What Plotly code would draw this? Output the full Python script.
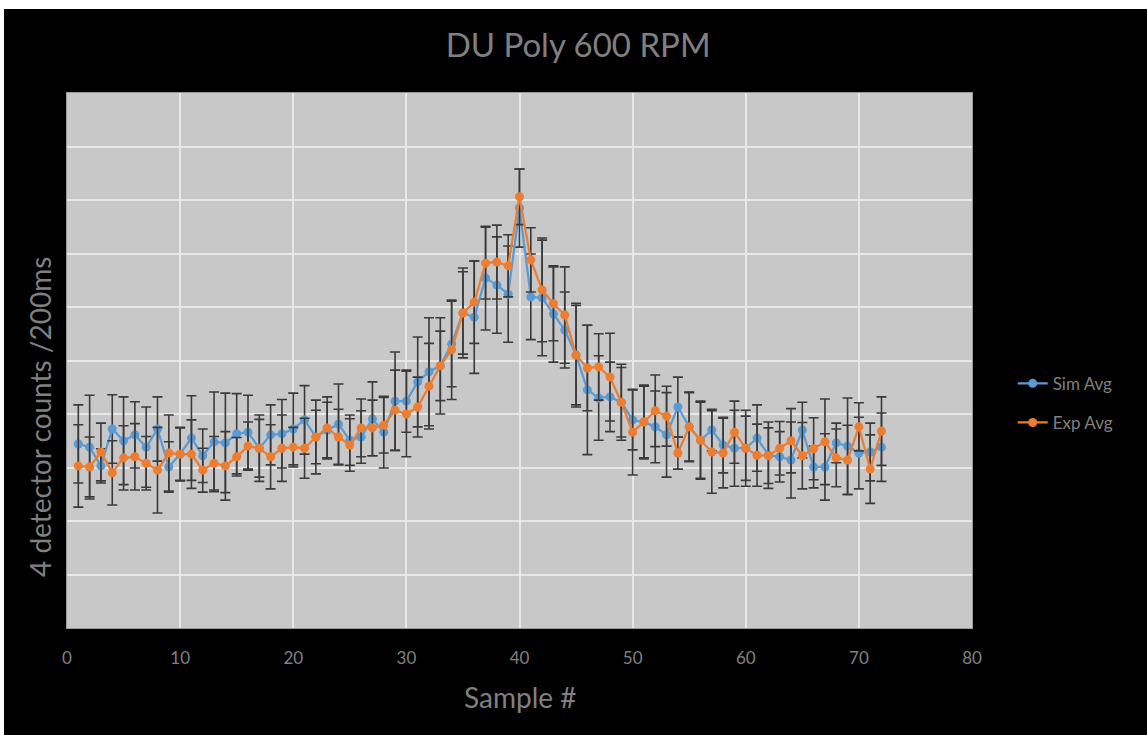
import plotly.graph_objects as go

# Sample numbers
samples = list(range(1, 73))

# Simulated average counts (4 detectors, per 200 ms)
sim_avg = [344, 338, 303, 372, 350, 361, 338, 372, 301, 325,
           355, 322, 348, 346, 363, 366, 336, 361, 363, 372,
           389, 357, 370, 381, 351, 357, 391, 366, 424, 424,
           460, 479, 490, 531, 589, 581, 654, 641, 624, 785,
           619, 617, 587, 557, 510, 445, 430, 432, 422, 389,
           385, 376, 361, 413, 376, 351, 370, 342, 336, 336,
           355, 323, 320, 314, 370, 301, 301, 346, 340, 327,
           329, 338]
sim_err = [73, 97, 32, 64, 82, 62, 75, 60, 47, 50,
           79, 50, 93, 93, 75, 69, 62, 56, 64, 67,
           64, 69, 52, 75, 47, 49, 69, 67, 92, 58,
           84, 101, 90, 80, 84, 105, 97, 90, 90, 73,
           80, 108, 90, 71, 97, 121, 79, 65, 71, 56,
           67, 67, 79, 56, 64, 71, 39, 52, 71, 60,
           62, 62, 47, 71, 52, 39, 62, 37, 90, 67,
           54, 64]

# Experimental average counts
exp_avg = [303, 301, 329, 290, 318, 320, 308, 295, 327, 325,
           325, 295, 308, 303, 320, 340, 336, 320, 336, 338,
           336, 357, 374, 357, 342, 374, 374, 379, 407, 400,
           413, 452, 490, 520, 589, 609, 682, 684, 677, 806,
           688, 632, 606, 585, 510, 486, 488, 469, 422, 366,
           385, 406, 396, 327, 376, 351, 329, 327, 366, 336,
           323, 322, 336, 350, 322, 335, 348, 318, 314, 376,
           297, 368]
exp_err = [77, 56, 54, 60, 60, 62, 50, 80, 71, 49,
           64, 41, 50, 64, 36, 45, 54, 60, 62, 37,
           56, 50, 58, 52, 49, 54, 52, 52, 75, 80,
           56, 80, 65, 93, 77, 77, 67, 69, 58, 52,
           60, 97, 69, 90, 93, 80, 62, 82, 65, 80,
           69, 67, 56, 30, 65, 73, 77, 65, 58, 71,
           58, 52, 50, 60, 62, 58, 80, 54, 65, 45,
           64, 64]

x_ticks = [0, 10, 20, 30, 40, 50, 60, 70, 80]

BLUE = "#5B9BD5"
ORANGE = "#ED7D31"
ERR = "#3a3a3a"
TEXT = "#808080"
FONT = "Lato, Open Sans, sans-serif"

fig = go.Figure()

fig.add_trace(go.Scatter(
    x=samples, y=sim_avg, name="Sim Avg", mode="lines+markers",
    line=dict(color=BLUE, width=2.25),
    marker=dict(color=BLUE, size=9),
    error_y=dict(type="data", array=sim_err, color=ERR, thickness=1.6, width=5),
    legendgroup="sim",
))
fig.add_trace(go.Scatter(
    x=samples, y=exp_avg, name="Exp Avg", mode="lines+markers",
    line=dict(color=ORANGE, width=2.25),
    marker=dict(color=ORANGE, size=9),
    error_y=dict(type="data", array=exp_err, color=ERR, thickness=1.6, width=5),
    legendgroup="exp",
))

fig.update_layout(
    width=1147, height=735,
    margin=dict(l=67, r=175, t=93, b=107),
    paper_bgcolor="black",
    plot_bgcolor="#c8c8c8",
    font=dict(family=FONT, color=TEXT, size=17),
    title=dict(text="DU Poly 600 RPM", x=0.504, xanchor="center",
               y=1 - 45 / 735, yanchor="middle",
               font=dict(family=FONT, size=33, color=TEXT)),
    showlegend=True,
    legend=dict(x=1.045, xanchor="left", y=0.42, yanchor="middle",
                traceorder="grouped", tracegroupgap=14,
                bgcolor="rgba(0,0,0,0)",
                font=dict(family=FONT, size=17, color=TEXT)),
    xaxis=dict(range=[0, 80], tickvals=x_ticks, showgrid=True,
               gridcolor="#e8e8e8", gridwidth=2, zeroline=False,
               showline=True, linecolor="#9a9a9a", linewidth=1, mirror=True,
               ticks="", ticklabelstandoff=15,
               tickfont=dict(family=FONT, size=17, color=TEXT)),
    yaxis=dict(range=[0, 1000], dtick=100, showgrid=True,
               gridcolor="#e8e8e8", gridwidth=2, zeroline=False,
               showticklabels=False, ticks="",
               showline=True, linecolor="#9a9a9a", linewidth=1, mirror=True),
    annotations=[
        dict(text="Sample #", xref="paper", yref="paper",
             x=0.5, y=(628 - 697) / 535, xanchor="center", yanchor="middle",
             showarrow=False, font=dict(family=FONT, size=28, color=TEXT)),
        dict(text="4 detector counts /200ms", xref="paper", yref="paper",
             x=(40 - 67) / 905, y=(628 - 417) / 535, textangle=-90,
             xanchor="center", yanchor="middle",
             showarrow=False, font=dict(family=FONT, size=28, color=TEXT)),
    ],
    shapes=[
        # white page edge along the top and left of the dark panel
        dict(type="rect", xref="paper", yref="paper",
             x0=-0.1, x1=1.4, y0=(628 - 9) / 535, y1=1.3,
             fillcolor="white", line=dict(width=0), layer="above"),
        dict(type="rect", xref="paper", yref="paper",
             x0=-0.1, x1=(4 - 67) / 905, y0=-0.3, y1=1.3,
             fillcolor="white", line=dict(width=0), layer="above"),
    ],
)

fig.write_html("out.html")
